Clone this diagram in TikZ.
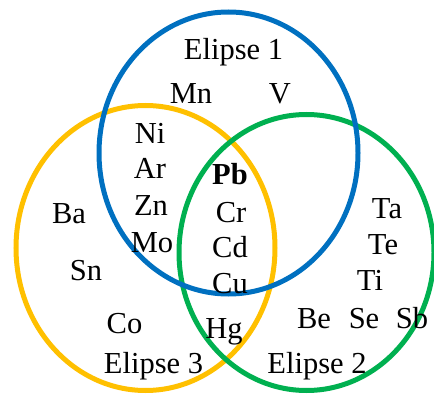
\documentclass[tikz,border=0pt]{standalone}
\usepackage{fontspec}
\setmainfont{Liberation Serif}
\definecolor{venblue}{RGB}{0,112,192}
\definecolor{venyellow}{RGB}{255,192,0}
\definecolor{vengreen}{RGB}{0,176,80}
\usetikzlibrary{positioning}
\begin{document}
\begin{tikzpicture}[x=1pt,y=-1pt,
  ring/.style={line width=5pt},
  elem/.style={anchor=base,inner sep=0pt,font=\fontsize{30.5}{33}\selectfont}]
  \useasboundingbox (0,0) rectangle (434,396);
  \draw[ring,venyellow] (145.5,248) ellipse [x radius=129.5pt,y radius=142.5pt];
  \draw[ring,vengreen] (306.5,252.5) ellipse [x radius=127.5pt,y radius=138pt];
  \draw[ring,venblue] (228.5,153) ellipse [x radius=129.5pt,y radius=141pt];
  % labels of the ellipses
  \node[elem] (e1) at (233.5,60) {Elipse 1};
  \node[elem] (e2) at (317,373) {Elipse 2};
  \node[elem] (e3) at (153.5,373) {Elipse 3};
  % elements
  \node[elem] (mn) at (191,103) {Mn};
  \node[elem] (v) at (280,103) {V};
  \node[elem] (ni) at (150,143) {Ni};
  \node[elem] (ar) at (150,178) {Ar};
  \node[elem] (zn) at (151,215) {Zn};
  \node[elem] (mo) at (152,252) {Mo};
  \node[elem,font=\fontsize{30.5}{33}\selectfont\bfseries] (pb) at (230,184) {Pb};
  \node[elem] (cr) at (231,222) {Cr};
  \node[elem] (cd) at (230,257) {Cd};
  \node[elem] (cu) at (230,293) {Cu};
  \node[elem] (ba) at (69,223) {Ba};
  \node[elem] (sn) at (86,280) {Sn};
  \node[elem] (co) at (124.5,333) {Co};
  \node[elem] (hg) at (224,338) {Hg};
  \node[elem] (ta) at (387,218) {Ta};
  \node[elem] (te) at (383,254) {Te};
  \node[elem] (ti) at (370,290) {Ti};
  \node[elem] (be) at (314,328) {Be};
  \node[elem] (se) at (364,328) {Se};
  \node[elem] (sb) at (412,328) {Sb};
\end{tikzpicture}
\end{document}
